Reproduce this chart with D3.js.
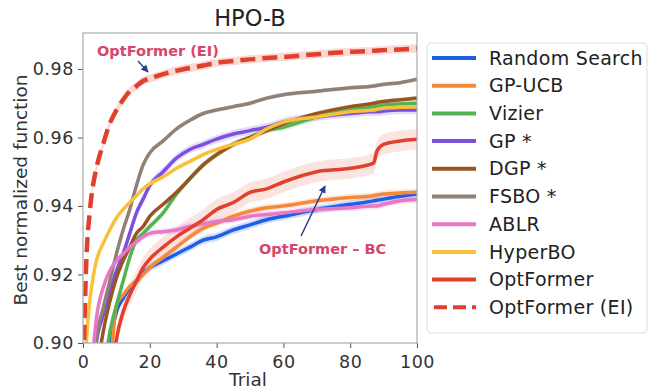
<!DOCTYPE html>
<html lang="en">
  <meta charset="utf-8">
  <style>
    body { margin: 0; background: #fff; }
    text { font-family: "DejaVu Sans", sans-serif; }
  </style>
  <body>
    <svg width="653" height="389"></svg>

    <script src="https://d3js.org/d3.v7.min.js"></script>
    <script>
    // trials shared by every series
    let trials = [0, 1, 2, 3, 4, 6, 8, 10, 12, 14, 16, 18, 20, 24, 28, 32, 36, 40, 45, 50, 55, 60, 70, 80, 87, 88, 90, 95, 100]

    let randomSearch = [0.82, 0.83, 0.84, 0.85, 0.86, 0.875, 0.898, 0.909, 0.913, 0.916, 0.918, 0.9205, 0.922, 0.924, 0.926, 0.928, 0.930, 0.931, 0.933, 0.9345, 0.936, 0.937, 0.939, 0.9405, 0.9415, 0.9417, 0.942, 0.9428, 0.9435]
    let gpUcb = [0.82, 0.83, 0.84, 0.85, 0.86, 0.875, 0.89, 0.911, 0.914, 0.9165, 0.918, 0.920, 0.922, 0.925, 0.928, 0.931, 0.9335, 0.935, 0.937, 0.9385, 0.9395, 0.940, 0.9415, 0.9425, 0.943, 0.9432, 0.9435, 0.9438, 0.944]
    let vizier = [0.85, 0.86, 0.87, 0.87, 0.88, 0.89, 0.903, 0.911, 0.918, 0.925, 0.930, 0.932, 0.934, 0.938, 0.9435, 0.948, 0.952, 0.955, 0.958, 0.960, 0.962, 0.963, 0.966, 0.968, 0.969, 0.9692, 0.9695, 0.9698, 0.970]
    let gp = [0.86, 0.87, 0.88, 0.89, 0.900, 0.908, 0.915, 0.921, 0.926, 0.932, 0.938, 0.942, 0.946, 0.950, 0.954, 0.9565, 0.958, 0.9595, 0.961, 0.962, 0.963, 0.9645, 0.966, 0.967, 0.9675, 0.9675, 0.9677, 0.968, 0.968]
    let dgp = [0.85, 0.86, 0.87, 0.88, 0.89, 0.903, 0.912, 0.919, 0.924, 0.928, 0.932, 0.934, 0.937, 0.9405, 0.944, 0.948, 0.952, 0.955, 0.958, 0.960, 0.962, 0.964, 0.967, 0.969, 0.970, 0.9702, 0.9705, 0.971, 0.9715]
    let fsbo = [0.86, 0.87, 0.88, 0.89, 0.901, 0.910, 0.918, 0.926, 0.933, 0.939, 0.946, 0.952, 0.9555, 0.959, 0.9625, 0.965, 0.967, 0.968, 0.969, 0.970, 0.9715, 0.9725, 0.9735, 0.9745, 0.975, 0.9752, 0.9755, 0.976, 0.977]
    let ablr = [0.85, 0.86, 0.88, 0.897, 0.907, 0.916, 0.921, 0.924, 0.926, 0.928, 0.9295, 0.931, 0.932, 0.9325, 0.933, 0.934, 0.9348, 0.9355, 0.936, 0.937, 0.9375, 0.938, 0.939, 0.9395, 0.940, 0.940, 0.9405, 0.9415, 0.942]
    let hyperBo = [0.87, 0.900, 0.912, 0.919, 0.924, 0.929, 0.933, 0.9365, 0.939, 0.941, 0.943, 0.945, 0.9465, 0.9485, 0.951, 0.953, 0.955, 0.9565, 0.958, 0.9595, 0.9625, 0.9645, 0.966, 0.9675, 0.968, 0.9682, 0.9685, 0.9688, 0.969]
    let optFormer = [0.80, 0.82, 0.84, 0.85, 0.86, 0.87, 0.885, 0.901, 0.909, 0.914, 0.918, 0.922, 0.9245, 0.928, 0.931, 0.9335, 0.936, 0.939, 0.941, 0.944, 0.945, 0.947, 0.950, 0.951, 0.9525, 0.956, 0.958, 0.959, 0.9595]
    let optFormerEI = [0.888, 0.924, 0.938, 0.946, 0.951, 0.958, 0.964, 0.968, 0.971, 0.9735, 0.975, 0.9765, 0.9772, 0.9785, 0.9795, 0.9803, 0.981, 0.9818, 0.9823, 0.9828, 0.9832, 0.9835, 0.9843, 0.985, 0.9853, 0.9854, 0.9855, 0.9857, 0.986]

    let seriesNames = ['Random Search', 'GP-UCB', 'Vizier', 'GP *', 'DGP *', 'FSBO *', 'ABLR', 'HyperBO', 'OptFormer', 'OptFormer (EI)']
    let seriesValues = [randomSearch, gpUcb, vizier, gp, dgp, fsbo, ablr, hyperBo, optFormer, optFormerEI]
    // half width of the shaded spread around each curve
    let spread = [0.0012, 0.001, 0.001, 0.0012, 0.0006, 0.0006, 0.001, 0.0006, 0.003, 0.0012]
    let colors = ['#1f5ee8', '#f5883a', '#52b552', '#7d4fe0', '#9a5424', '#8f8177', '#e877c6', '#f7c23a', '#e1402c', '#e1402c']

    let xTicks = [0, 20, 40, 60, 80, 100]
    let yTicks = [0.90, 0.92, 0.94, 0.96, 0.98]

    let svg = d3.select('svg')

    let x = d3.scaleLinear().domain([0, 100]).range([83, 417])
    let y = d3.scaleLinear().domain([0.90, 0.9905]).range([343, 33])

    svg.append('defs').append('clipPath').attr('id', 'plot')
       .append('rect').attr('x', 83).attr('y', 33).attr('width', 334).attr('height', 310)

    let plot = svg.append('g').attr('clip-path', 'url(#plot)')

    let line = d3.line()
                 .x((d, i) => x(trials[i]))
                 .y(d => y(d))
                 .curve(d3.curveMonotoneX)

    // 阴影带
    seriesValues.forEach((vals, k) => {
      let area = d3.area()
                   .x((d, i) => x(trials[i]))
                   .y0(d => y(d - spread[k]))
                   .y1(d => y(d + spread[k]))
                   .curve(d3.curveMonotoneX)
      plot.append('path')
          .attr('d', area(vals))
          .attr('fill', colors[k])
          .attr('opacity', k == 8 ? 0.15 : 0.2)
    })

    // 曲线
    seriesValues.forEach((vals, k) => {
      let dashed = k == 9
      plot.append('path')
          .attr('d', line(vals))
          .attr('fill', 'none')
          .attr('stroke', colors[k])
          .attr('stroke-width', dashed ? 4.5 : 3.5)
          .attr('stroke-dasharray', dashed ? '15,7' : null)
          .attr('stroke-linejoin', 'round')
    })

    // 坐标轴
    let xAxis = svg.append('g').attr('transform', 'translate(0,343)')
                   .call(d3.axisBottom(x).tickValues(xTicks).tickFormat(d3.format('d')).tickSize(5).tickSizeOuter(0))
    let yAxis = svg.append('g').attr('transform', 'translate(83,0)')
                   .call(d3.axisLeft(y).tickValues(yTicks).tickFormat(d3.format('.2f')).tickSize(5).tickSizeOuter(0))
    ;[xAxis, yAxis].forEach(a => {
      a.select('.domain').remove()
      a.selectAll('line').attr('stroke', '#555')
      a.selectAll('text').attr('fill', '#333').attr('font-size', '17.5px')
       .attr('font-family', '"DejaVu Sans", sans-serif').style('letter-spacing', '0.6px')
    })
    xAxis.selectAll('text').attr('dy', '0.95em')
    yAxis.selectAll('text').attr('x', -9)

    svg.append('rect').attr('x', 83).attr('y', 33).attr('width', 334).attr('height', 310)
       .attr('fill', 'none').attr('stroke', '#aaa').attr('stroke-width', 1.2)

    svg.append('text').attr('x', 250).attr('y', 26).attr('text-anchor', 'middle')
       .attr('font-size', '22.5px').attr('fill', '#222').text('HPO-B')
    svg.append('text').attr('x', 248).attr('y', 386).attr('text-anchor', 'middle')
       .attr('font-size', '18.5px').attr('fill', '#333').text('Trial')
    svg.append('text').attr('transform', 'translate(27,190) rotate(-90)').attr('text-anchor', 'middle')
       .attr('font-size', '18.5px').attr('fill', '#333').text('Best normalized function')

    // 标注
    let arrowColor = '#2a3f8f'
    let defs = svg.select('defs')
    defs.append('marker').attr('id', 'head').attr('viewBox', '0 0 10 10')
        .attr('refX', 9).attr('refY', 5).attr('markerWidth', 5).attr('markerHeight', 5)
        .attr('orient', 'auto')
        .append('path').attr('d', 'M0,0 L10,5 L0,10 z').attr('fill', arrowColor)

    svg.append('text').attr('x', 97).attr('y', 56).attr('font-size', '14.5px').attr('font-weight', 'bold')
       .attr('fill', '#d8456a').text('OptFormer (EI)')
    svg.append('line').attr('x1', 138).attr('y1', 61).attr('x2', 148).attr('y2', 72)
       .attr('stroke', arrowColor).attr('stroke-width', 1.5).attr('marker-end', 'url(#head)')

    svg.append('text').attr('x', 259).attr('y', 254).attr('font-size', '14.5px').attr('font-weight', 'bold')
       .attr('fill', '#d8456a').text('OptFormer – BC')
    svg.append('line').attr('x1', 301).attr('y1', 236).attr('x2', 325).attr('y2', 186)
       .attr('stroke', arrowColor).attr('stroke-width', 1.5).attr('marker-end', 'url(#head)')

    // 图例
    let legend = svg.append('g')
    legend.append('rect').attr('x', 427).attr('y', 43).attr('width', 220).attr('height', 290)
          .attr('rx', 4).attr('fill', '#fff').attr('stroke', '#ddd')
    seriesNames.forEach((name, k) => {
      let ly = 58 + k * 27.7
      legend.append('line').attr('x1', 432).attr('x2', 476).attr('y1', ly).attr('y2', ly)
            .attr('stroke', colors[k]).attr('stroke-width', 4)
            .attr('stroke-dasharray', k == 9 ? '13,6' : null)
            .attr('stroke-dashoffset', k == 9 ? -2 : 0)
      legend.append('text').attr('x', 489).attr('y', ly).attr('dy', '0.35em')
            .attr('font-size', '19px').attr('fill', '#222').style('letter-spacing', '0.3px').text(name)
    })
    </script>
</body>
</html>
